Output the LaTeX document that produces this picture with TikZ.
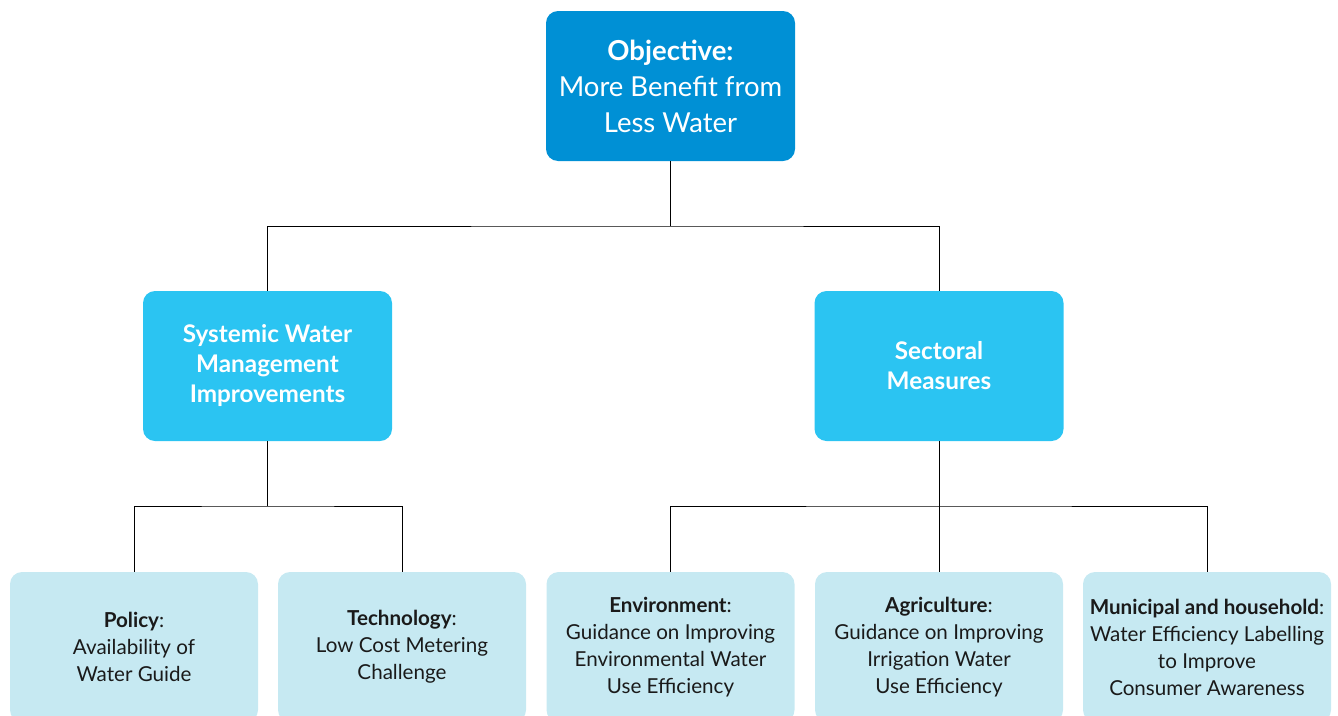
\documentclass[tikz,border=0pt]{standalone}
\usepackage{fontspec}
\setmainfont{Lato}
\usetikzlibrary{positioning}

\definecolor{topblue}{HTML}{0090D5}
\definecolor{midblue}{HTML}{2BC4F2}
\definecolor{lowblue}{HTML}{C6E9F2}
\definecolor{lowtext}{HTML}{1A1A1A}

\tikzset{
  objbox/.style={fill=topblue, rounded corners=12pt, minimum width=249pt, minimum height=150pt,
    align=center, text=white, font=\fontsize{27.5}{36}\selectfont},
  pillarbox/.style={fill=midblue, rounded corners=12pt, minimum width=249pt, minimum height=150pt,
    align=center, text=white, font=\fontsize{24.3}{30}\selectfont\bfseries},
  actionbox/.style={fill=lowblue, rounded corners=12pt, minimum width=248pt, minimum height=150pt,
    align=center, text=lowtext, font=\fontsize{20.6}{27}\selectfont},
  link/.style={draw=black, line width=1pt}
}

\begin{document}
\begin{tikzpicture}[x=1pt, y=-1pt]
    \useasboundingbox (0,0) rectangle (1338,715);
    \clip (0,0) rectangle (1338,715);

    % objective
    \node[objbox] (obj) at (670.5,86) {\textbf{Objective:}\\More Benefit from\\Less Water};

    % two pillars
    \node[pillarbox] (sys) at (267.5,366) {Systemic Water\\Management\\Improvements};
    \node[pillarbox] (sec) at (939,366) {Sectoral\\Measures};

    % actions
    \node[actionbox] (pol) at (134,647) {\textbf{Policy}:\\Availability of\\Water Guide};
    \node[actionbox] (tec) at (402,647) {\textbf{Technology}:\\Low Cost Metering\\Challenge};
    \node[actionbox] (env) at (670.5,647) {\textbf{Environment}:\\Guidance on Improving\\Environmental Water\\Use Efficiency};
    \node[actionbox] (agr) at (939,647) {\textbf{Agriculture}:\\Guidance on Improving\\Irrigation Water\\Use Efficiency};
    \node[actionbox] (mun) at (1207,647) {\textbf{Municipal and household}:\\Water Efficiency Labelling\\to Improve\\Consumer Awareness};

    % connectors
    \coordinate (j0) at (670.5,226);
    \coordinate (j1) at (267.5,506);
    \coordinate (j2) at (939,506);
    \draw[link] (obj.south) -- (j0);
    \draw[link] (sys.north) |- (j0) -| (sec.north);
    \draw[link] (sys.south) -- (j1);
    \draw[link] (pol.north) |- (j1) -| (tec.north);
    \draw[link] (sec.south) -- (agr.north);
    \draw[link] (env.north) |- (j2) -| (mun.north);
\end{tikzpicture}
\end{document}
